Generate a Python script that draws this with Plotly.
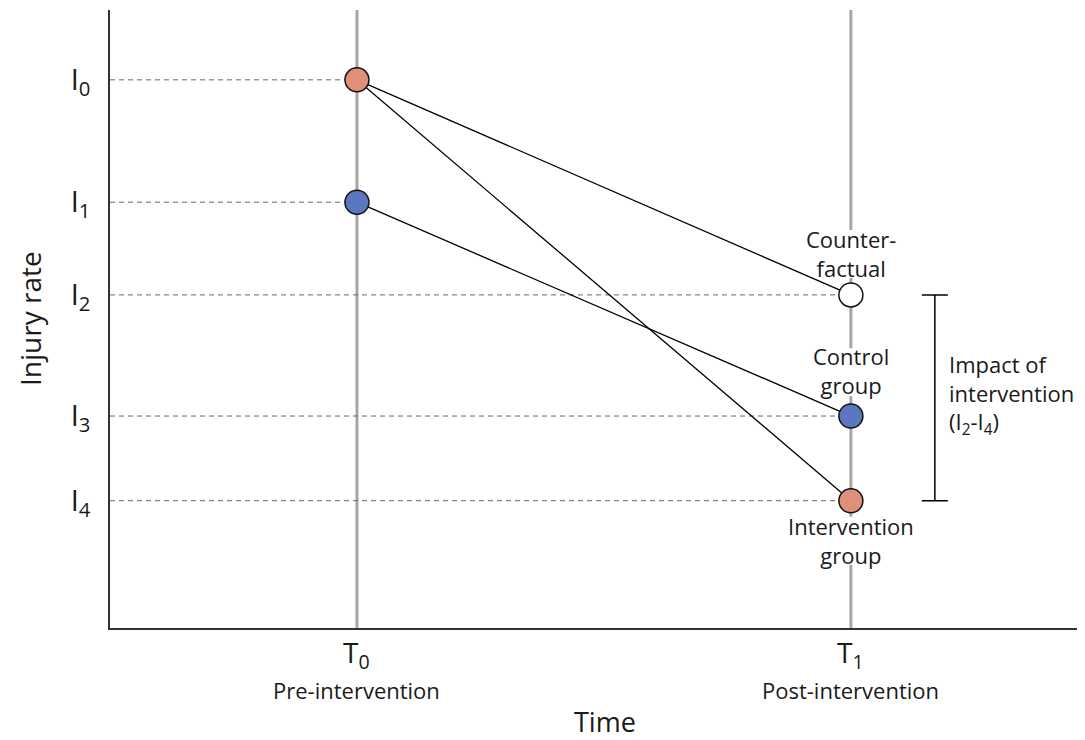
import plotly.graph_objects as go

# ---- data ----
times = [1, 2]                      # T0, T1
time_labels = ["T<sub>0</sub>", "T<sub>1</sub>"]
time_sublabels = ["Pre-intervention", "Post-intervention"]

level_names = ["I0", "I1", "I2", "I3", "I4"]
level_values = [88.7, 68.9, 53.9, 34.3, 20.6]
level_ticktext = ["I<sub>0</sub>", "I<sub>1</sub>", "I<sub>2</sub>", "I<sub>3</sub>", "I<sub>4</sub>"]

intervention_y = [88.7, 20.6]        # I0 -> I4
control_y = [68.9, 34.3]             # I1 -> I3
counterfactual_y = [88.7, 53.9]      # I0 -> I2

SALMON = "#E08F7B"
BLUE = "#5B77BF"
FONT = "Open Sans"
TXT = "#1a1a1a"

fig = go.Figure()

# dashed reference lines from y-axis to each point
dash_targets_x = [1, 1, 2, 2, 2]
for yv, xv in zip(level_values, dash_targets_x):
    fig.add_trace(go.Scatter(x=[0.5, xv], y=[yv, yv], mode="lines",
                             line=dict(color="#666666", width=1, dash="5px,4px"),
                             hoverinfo="skip", showlegend=False))

# connecting lines
for ys in [counterfactual_y, intervention_y, control_y]:
    fig.add_trace(go.Scatter(x=times, y=ys, mode="lines",
                             line=dict(color="black", width=1.3),
                             hoverinfo="skip", showlegend=False))

# points
mk_line = dict(color="#111111", width=1.5)
fig.add_trace(go.Scatter(x=[1, 2], y=intervention_y, mode="markers",
                         marker=dict(size=24, color=SALMON, line=mk_line), showlegend=False))
fig.add_trace(go.Scatter(x=[1, 2], y=control_y, mode="markers",
                         marker=dict(size=24, color=BLUE, line=mk_line), showlegend=False))
fig.add_trace(go.Scatter(x=[2], y=[counterfactual_y[1]], mode="markers",
                         marker=dict(size=24, color="white", line=mk_line), showlegend=False))

# bracket showing impact (I2 - I4)
mid = (level_values[2] + level_values[4]) / 2
half = (level_values[2] - level_values[4]) / 2
fig.add_trace(go.Scatter(x=[2.17], y=[mid], mode="markers",
                         marker=dict(size=1, color="rgba(0,0,0,0)"),
                         error_y=dict(type="data", array=[half], symmetric=True,
                                      width=13, thickness=1.5, color="black"),
                         hoverinfo="skip", showlegend=False))

# vertical gray time lines
for t in times:
    fig.add_shape(type="line", xref="x", yref="paper", x0=t, x1=t, y0=0, y1=1,
                  line=dict(color="#A6A6A6", width=3), layer="below")

# white boxes behind the point labels (hide gray line)
label_boxes = [(60.5, 64, 24), (41.4, 44, 24), (14.1, 66, 24)]  # (y centre, half width px, half height px)
for yc, hw, hh in label_boxes:
    fig.add_shape(type="rect", xref="x", yref="y", xsizemode="pixel", ysizemode="pixel",
                  xanchor=2, yanchor=yc, x0=-hw, x1=hw, y0=-hh, y1=hh,
                  fillcolor="white", line=dict(width=0), layer="below")

ann = []
def lab(text, x, y, size=22, **kw):
    d = dict(text=text, x=x, y=y, xref="x", yref="y", showarrow=False,
             font=dict(family=FONT, size=size, color=TXT), borderpad=0)
    d.update(kw)
    ann.append(d)

# point labels
lab("Counter-<br>factual", 2, 60.6)
lab("Control<br>group", 2, 41.6)
lab("Intervention<br>group", 2, 14.2)

# impact text
lab("Impact of<br>intervention<br>(I<sub>2</sub>-I<sub>4</sub>)", 2.196, 37.8,
    xanchor="left", align="left")

# time labels below axis
for t, tl, sl in zip(times, time_labels, time_sublabels):
    ann.append(dict(text=tl, x=t, y=0, xref="x", yref="paper", yanchor="middle",
                    yshift=-26, showarrow=False, borderpad=0,
                    font=dict(family=FONT, size=28, color=TXT)))
    ann.append(dict(text=sl, x=t, y=0, xref="x", yref="paper", yanchor="middle",
                    yshift=-62, showarrow=False, borderpad=0,
                    font=dict(family=FONT, size=22, color=TXT)))

# axis titles
ann.append(dict(text="Time", x=1.502, y=0, xref="x", yref="paper", yanchor="middle",
                yshift=-93, showarrow=False, borderpad=0,
                font=dict(family=FONT, size=27, color=TXT)))
ann.append(dict(text="Injury rate", x=0, y=0.5, xref="paper", yref="paper",
                xanchor="center", yanchor="middle", xshift=-80, textangle=-90,
                showarrow=False, font=dict(family=FONT, size=28, color=TXT)))

fig.update_layout(
    width=1077, height=732,
    margin=dict(l=102, r=0, t=2, b=112),
    paper_bgcolor="white", plot_bgcolor="white",
    showlegend=False,
    annotations=ann,
    xaxis=dict(range=[0.5, 2.474], showgrid=False, zeroline=False,
               showline=True, linecolor="#333333", linewidth=1.5,
               showticklabels=False, ticks=""),
    yaxis=dict(range=[0, 100], showgrid=False, zeroline=False,
               showline=True, linecolor="#333333", linewidth=1.5,
               tickvals=level_values, ticktext=level_ticktext, ticks="",
               ticklabelstandoff=12,
               tickfont=dict(family=FONT, size=29, color=TXT)),
)

fig.write_html("out.html")
